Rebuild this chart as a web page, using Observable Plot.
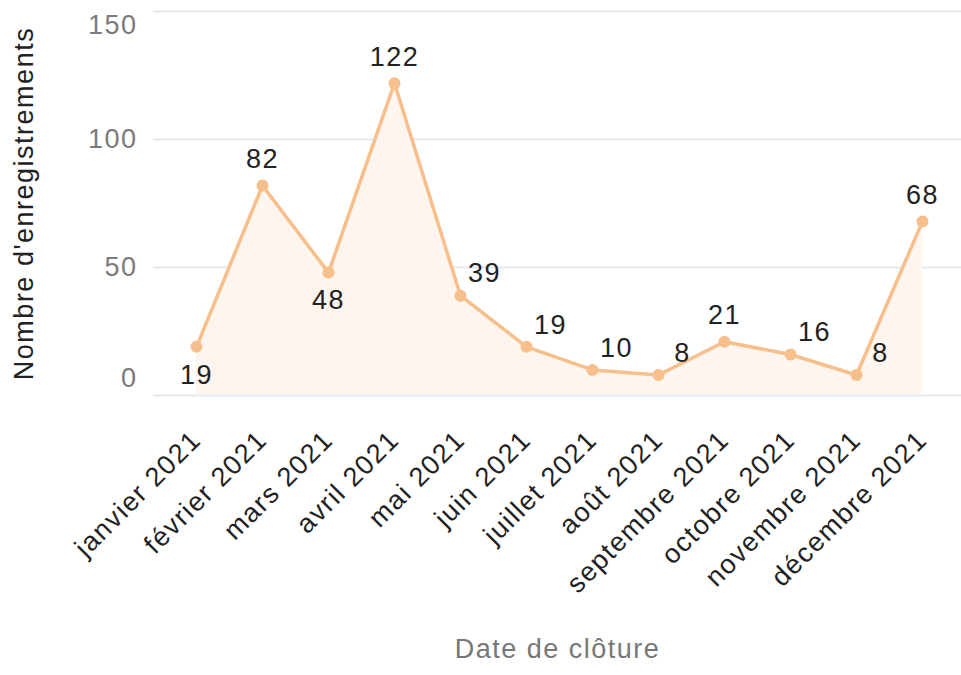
<!DOCTYPE html>
<html>
<head>
<meta charset="utf-8">
<script src="https://cdn.jsdelivr.net/npm/d3@7"></script>
<script src="https://cdn.jsdelivr.net/npm/@observablehq/plot@0.6"></script>
<style>
  html, body { margin: 0; padding: 0; background: #fff; }
  svg text { letter-spacing: 1.5px; }
</style>
</head>
<body>
<div id="chart"></div>
<script>
const months = ["janvier 2021", "février 2021", "mars 2021", "avril 2021", "mai 2021", "juin 2021",
  "juillet 2021", "août 2021", "septembre 2021", "octobre 2021", "novembre 2021", "décembre 2021"];
const counts = [19, 82, 48, 122, 39, 19, 10, 8, 21, 16, 8, 68];
const yTicks = [0, 50, 100, 150];
const yTicksTop = [150];
const yTicksMid = [50, 100];
const yTicksBottom = [0];
const labelsBelow = ["janvier 2021", "mars 2021"];
const labelsAbove = ["février 2021", "avril 2021", "septembre 2021", "décembre 2021"];

const data = months.map((m, i) => ({month: m, count: counts[i]}));
const below = data.filter(d => labelsBelow.includes(d.month));
const above = data.filter(d => labelsAbove.includes(d.month));
const right = data.filter(d => !labelsBelow.includes(d.month) && !labelsAbove.includes(d.month));

const orange = "#f6bf8b";
const font = "'Liberation Sans', Arial, sans-serif";
const tickStyle = {tickSize: 0, tickPadding: 16, fontSize: 27, fill: "#7a7a7a", label: null};

const chart = Plot.plot({
  width: 961,
  height: 675,
  marginTop: 11,
  marginBottom: 280,
  marginLeft: 153,
  marginRight: 0,
  style: {fontFamily: font, background: "#fff"},
  x: {type: "point", domain: months, padding: 0, insetLeft: 39, insetRight: 35},
  y: {domain: [0, 150]},
  marks: [
    Plot.gridY(yTicks, {stroke: "#e3e9f0", strokeOpacity: 1, strokeWidth: 2}),
    Plot.axisY(yTicksTop, {...tickStyle, dy: 14}),
    Plot.axisY(yTicksMid, {...tickStyle}),
    Plot.axisY(yTicksBottom, {...tickStyle, dy: -17}),
    Plot.axisX({tickSize: 0, tickRotate: -45, tickPadding: 40, fontSize: 27, fill: "#222", label: null}),
    Plot.areaY(data, {x: "month", y: "count", fill: "#fdf5ee"}),
    Plot.lineY(data, {x: "month", y: "count", stroke: orange, strokeWidth: 3.5}),
    Plot.dot(data, {x: "month", y: "count", fill: orange, r: 6}),
    Plot.text(below, {x: "month", y: "count", text: d => String(d.count), dy: 28, fontSize: 27, fill: "#222"}),
    Plot.text(above, {x: "month", y: "count", text: d => String(d.count), dy: -26, fontSize: 27, fill: "#222"}),
    Plot.text(right, {x: "month", y: "count", text: d => String(d.count), dx: 24, dy: -22, fontSize: 27, fill: "#222"}),
    Plot.text(["Date de clôture"], {frameAnchor: "bottom", dy: 262, fontSize: 27, fill: "#777"}),
    Plot.text(["Nombre d'enregistrements"], {frameAnchor: "left", textAnchor: "middle", rotate: -90, dx: -129, fontSize: 27, fill: "#222"})
  ]
});
document.getElementById("chart").appendChild(chart);
</script>
</body>
</html>
